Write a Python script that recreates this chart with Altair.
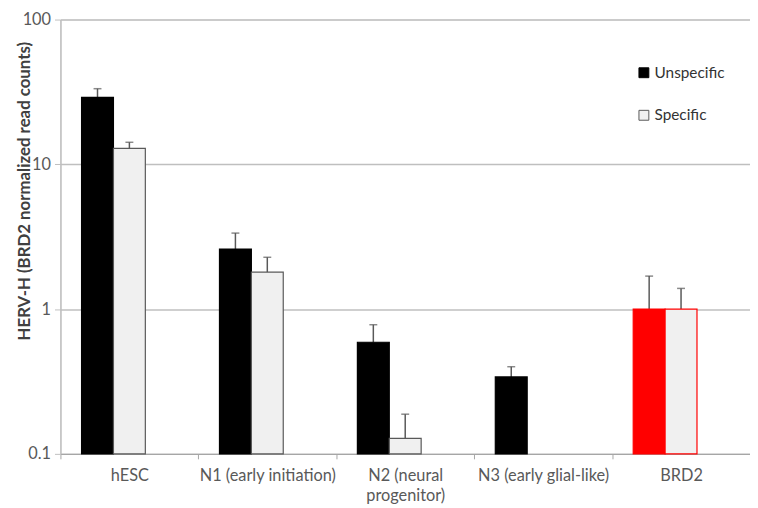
import altair as alt
import pandas as pd

categories = ["hESC", "N1 (early initiation)", "N2 (neural progenitor)", "N3 (early glial-like)", "BRD2"]
unspecific = [29.0, 2.6, 0.59, 0.34, 1.0]
unspecific_err = [33.3, 3.35, 0.78, 0.40, 1.69]
specific = [12.9, 1.8, 0.128, None, 1.0]
specific_err = [14.2, 2.28, 0.188, None, 1.39]
series_names = ["Unspecific", "Specific"]

rows = []
for i, c in enumerate(categories):
    for s, vals, errs in (("Unspecific", unspecific, unspecific_err), ("Specific", specific, specific_err)):
        if vals[i] is not None:
            rows.append({"category": c, "series": s, "value": vals[i], "err": errs[i]})
df = pd.DataFrame(rows)

FONT = "Lato"
x = alt.X("category:N", sort=categories, title=None,
          scale=alt.Scale(paddingInner=0, paddingOuter=0),
          axis=alt.Axis(labelAngle=0, labelFontSize=16.5, labelColor="#595959", labelFont=FONT,
                        labelPadding=9, tickBand="extent", tickColor="#a6a6a6", tickSize=5,
                        domainColor="#a6a6a6", domainWidth=1.5, grid=False, labelLineHeight=20,
                        labelExpr="datum.label == 'N2 (neural progenitor)' ? ['N2 (neural', 'progenitor)'] : datum.label"))
xoff = alt.XOffset("series:N", scale=alt.Scale(domain=["Unspecific", "Specific", "_blank"],
                                               paddingInner=0, paddingOuter=0.6625))
y = alt.Y("value:Q", title="HERV-H (BRD2 normalized read counts)",
          scale=alt.Scale(type="log", domain=[0.1, 100]),
          axis=alt.Axis(values=[0.1, 1, 10, 100], labelExpr="datum.value < 1 ? '0.1' : format(datum.value, 'd')",
                        labelFontSize=16.5, labelColor="#595959", labelFont=FONT, labelPadding=4,
                        tickColor="#bfbfbf", tickSize=6, domainColor="#bfbfbf", domainWidth=1.5,
                        gridColor="#bfbfbf", gridWidth=1.5, titleFont=FONT, titleFontSize=17,
                        titleFontWeight="bold", titleColor="#404040",
                        titleX=-36, titleY=173, titleAngle=270, titleAlign="center", titleBaseline="middle"))

bars = alt.Chart(df).mark_bar(strokeWidth=1.2).encode(
    x=x, xOffset=xoff, y=y, y2=alt.datum(0.1),
    fill=alt.condition("datum.category == 'BRD2' && datum.series == 'Unspecific'", alt.value("#ff0000"),
                       alt.Fill("series:N", sort=series_names,
                                scale=alt.Scale(domain=series_names, range=["#000000", "#f0f0f0"]),
                                legend=alt.Legend(title=None, orient="none", legendX=582, legendY=46,
                                                  symbolType="square", symbolSize=100, symbolStrokeColor="#404040",
                                                  symbolStrokeWidth=1, labelFont=FONT, labelFontSize=15.5,
                                                  labelColor="#333333", rowPadding=26, labelOffset=3))),
    stroke=alt.condition("datum.category == 'BRD2'", alt.value("#ff0000"),
                         alt.Stroke("series:N", scale=alt.Scale(domain=series_names, range=["#000000", "#595959"]),
                                    legend=None)),
)

rules = alt.Chart(df).mark_rule(color="#595959", strokeWidth=1.5).encode(
    x=x, xOffset=xoff, y=alt.Y("value:Q"), y2="err:Q")
caps = alt.Chart(df).mark_tick(color="#595959", thickness=1.5, size=8, orient="horizontal").encode(
    x=x, xOffset=xoff, y=alt.Y("err:Q"))

chart = alt.layer(rules, caps, bars).properties(
    width=697, height=439,
    autosize=alt.AutoSizeParams(type="none"),
    padding={"left": 53, "top": 9, "right": 0, "bottom": 50},
).configure_view(stroke=None).configure(background="white")

chart.save("out.html", embed_options={"renderer": "svg", "actions": False})
